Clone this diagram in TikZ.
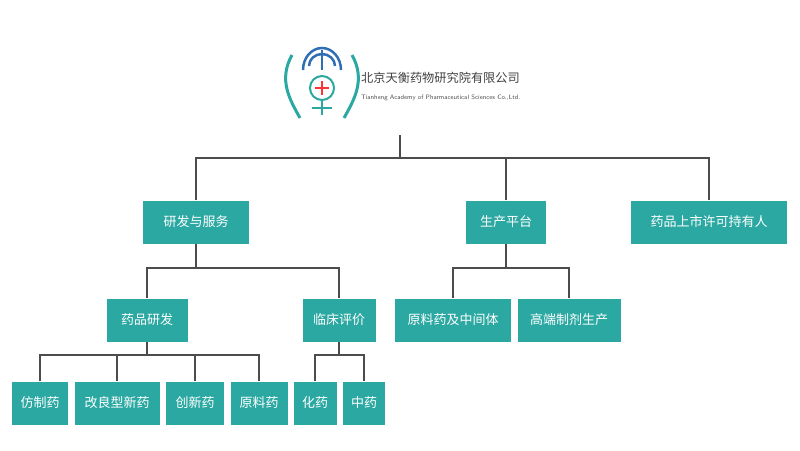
\documentclass[tikz,border=0pt]{standalone}
\usepackage{fontspec}
\newfontfamily\cjk{Noto Sans CJK SC}
\definecolor{teal1}{HTML}{2BA8A2}
\definecolor{logoblue}{HTML}{2F6DB5}
\tikzset{
    box/.style={fill=teal1, text=white, font=\cjk\fontsize{13}{15}\selectfont,
        minimum height=43pt, inner sep=0pt},
    link/.style={draw=black!70, line width=1.6pt}
}
\begin{document}
\begin{tikzpicture}[x=1pt,y=-1pt]
    \useasboundingbox (0,0) rectangle (800,450);
    % logo
    \draw[logoblue, line width=2.5pt] (303,70) arc (180:360:19 and 22);
    \draw[logoblue, line width=2.5pt] (309,66) arc (180:360:13 and 12);
    \draw[logoblue, line width=2pt] (322,50) -- (322,70);
    \draw[teal1, line width=2pt] (322,88) circle (12);
    \draw[red!80, line width=2pt] (322,81) -- (322,95) (315,88) -- (329,88);
    \draw[teal1, line width=2.5pt] (312,108) -- (332,108) (322,101) -- (322,115);
    \draw[teal1, line width=3pt] (292,55) .. controls (278,80) and (290,100) .. (300,118);
    \draw[teal1, line width=3pt] (352,55) .. controls (366,80) and (354,100) .. (344,118);
    \node[anchor=west, text=black!75, font=\cjk\fontsize{12.2}{14}\selectfont, inner sep=0pt] (name) at (361,78) {北京天衡药物研究院有限公司};
    \node[anchor=west, text=black!70, font=\sffamily\fontsize{6.4}{8}\selectfont, inner sep=0pt] (ename) at (361,98) {Tianheng Academy of Pharmaceutical Sciences Co.,Ltd.};
    \coordinate (top) at (400,135);
    % level 1
    \node[box, minimum width=106pt] (rd) at (196,222) {研发与服务};
    \node[box, minimum width=80pt] (prod) at (506,222) {生产平台};
    \node[box, minimum width=156pt] (mah) at (709,222) {药品上市许可持有人};
    % level 2
    \node[box, minimum width=81pt] (drug) at (147,320) {药品研发};
    \node[box, minimum width=73pt] (clin) at (339,320) {临床评价};
    \node[box, minimum width=116pt] (api) at (453,320) {原料药及中间体};
    \node[box, minimum width=103pt] (form) at (569,320) {高端制剂生产};
    % level 3
    \foreach \n/\x/\w/\t in {gen/40/56/仿制药, imp/117/85/改良型新药, inn/195/58/创新药,
        raw/259/57/原料药, chem/315/43/化药, tcm/364/42/中药}{%
        \node[box, minimum width=\w pt] (\n) at (\x,403) {\t};
    }
    % connectors
    \draw[link] (top) -- (400,158);
    \draw[link] (rd.north) |- (400,158) -| (mah.north);
    \draw[link] (prod.north) -- (prod.north |- 0,158);
    \draw[link] (rd.south) -- (196,268);
    \draw[link] (drug.north) |- (196,268) -| (clin.north);
    \draw[link] (prod.south) -- (506,268);
    \draw[link] (api.north) |- (506,268) -| (form.north);
    \draw[link] (drug.south) -- (147,355);
    \draw[link] (gen.north) |- (147,355) -| (raw.north);
    \draw[link] (imp.north) -- (imp.north |- 0,355);
    \draw[link] (inn.north) -- (inn.north |- 0,355);
    \draw[link] (clin.south) -- (339,355);
    \draw[link] (chem.north) |- (339,355) -| (tcm.north);
\end{tikzpicture}
\end{document}
